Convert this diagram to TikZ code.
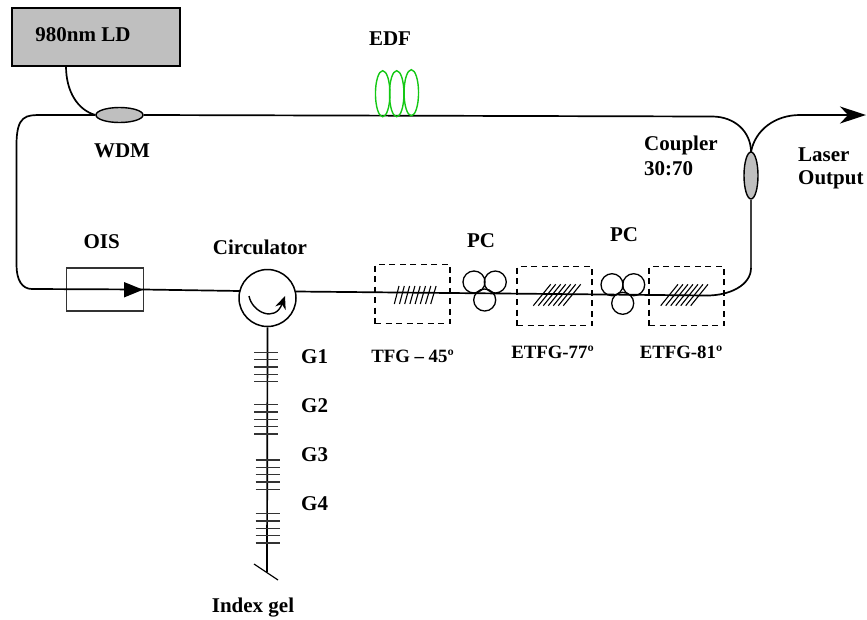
\documentclass[tikz,border=0pt]{standalone}
\usepackage{fontspec}
\setmainfont{Liberation Serif}
\usetikzlibrary{shapes.geometric,arrows.meta}
\tikzset{
  lab/.style={font=\fontsize{21}{24}\selectfont\bfseries,inner sep=0pt,align=left},
  smlab/.style={font=\fontsize{18.8}{22}\selectfont\bfseries,inner sep=0pt},
  fibre/.style={line width=1.7pt,black},
  tick/.style={line width=1.2pt,black!80},
  hatch/.style={line width=1.1pt,black},
  coupl/.style={ellipse,draw=black,line width=1.4pt,fill=black!25,inner sep=0pt},
  dbox/.style={draw=black,line width=1.4pt,dash pattern=on 6pt off 4.5pt,inner sep=0pt,minimum width=75pt,minimum height=59pt},
  pcring/.style={circle,draw=black,line width=1.3pt,inner sep=0pt,minimum size=22pt},
  coil/.style={ellipse,draw={rgb,255:red,20;green,200;blue,20},line width=1.4pt,inner sep=0pt,minimum width=14.5pt,minimum height=46pt}
}
\begin{document}
\begin{tikzpicture}[x=1pt,y=-1pt]
\useasboundingbox (0,0) rectangle (867,619);
% source
\node[draw=black,line width=1.6pt,fill=black!25,inner sep=0pt,minimum width=168pt,minimum height=58pt] (ld) at (96,37) {};
\node[lab] (ldt) at (83,34.5) {980nm LD};
% couplers
\node[coupl,minimum width=47pt,minimum height=15pt] (wdm) at (119.5,115) {};
\node[coupl,minimum width=14pt,minimum height=47pt] (cpl) at (751,175.5) {};
% waypoints
\coordinate (ldout) at (66,66);
\coordinate (tl) at (42,115);
\coordinate (l1) at (16.5,145);
\coordinate (l2) at (16.5,265);
\coordinate (l3) at (32,289);
\coordinate (tr) at (712,116.5);
\coordinate (cplin) at (751,152);
\coordinate (o1) at (800,115);
\coordinate (o2) at (866,115);
\coordinate (r1) at (751,268);
\coordinate (r2) at (707,295.5);
\coordinate (gel) at (267,572);
\coordinate (gela) at (254,564);
\coordinate (gelb) at (278,580);
% circulator and isolator
\node[circle,draw=black,line width=1.5pt,inner sep=0pt,minimum size=57pt] (circ) at (267.5,298) {};
\node[draw=black!80,line width=1.1pt,inner sep=0pt,minimum width=76.5pt,minimum height=43pt] (ois) at (105,289.5) {};
% fibres
\draw[fibre] (ldout) .. controls (66,92) and (78,110) .. (wdm.west);
\draw[fibre] (wdm.west) -- (tl) .. controls (26,115) and (l1|-tl) .. (l1) -- (l2)
   .. controls (16.5,280) and (22,289) .. (l3) -- (ois.east) -- (240,291);
\draw[fibre] (wdm.east) -- (tr) .. controls (735,116.5) and (751,132) .. (cplin);
\draw[fibre,-{Stealth[length=26pt,width=17pt,inset=8pt]}] (cplin) .. controls (755,130) and (775,115) .. (o1) -- (o2);
\draw[fibre,black!75] (cpl.south) -- (r1);
\draw[fibre] (r1) .. controls (751,285) and (730,295.5) .. (r2);
\draw[fibre] (296,291.5) -- (r2);
\draw[fibre] (circ.south) -- (gel);
\draw[line width=1.2pt] (gela) -- (gelb);
% isolator head
\fill[black] (124,282) -- (143,289.7) -- (124,297.5) -- cycle;
% circulator arrow
\draw[line width=1.4pt,-{Stealth[length=13pt,width=11pt]}] (249,296) .. controls (252,312) and (275,323) .. (285,296);
% EDF
\node[coil] (c1) at (382.7,93.7) {};
\node[coil] (c2) at (396.7,93.7) {};
\node[coil] (c3) at (411.3,92.7) {};
% gratings
\foreach \y in {352.3,359.7,367,374.3,381.7,404.7,412,419.3,426.7,434}
  \draw[tick] (254,\y) -- (278,\y);
\foreach \y in {460,467.3,474.7,482,489.3,513.7,521,528.3,535.7,543}
  \draw[tick] (255.5,\y) -- (280,\y);
% dashed boxes
\node[dbox] (b1) at (412.5,294.2) {};
\node[dbox] (b2) at (554.5,296) {};
\node[dbox] (b3) at (686.5,296) {};
% hatching
\foreach \i in {0,...,7}
  \draw[hatch] ({394.3+\i*5.2},304) -- ({399+\i*5.3},286);
\foreach \i in {0,...,6} {
  \draw[hatch] ({533.3+\i*5},305.7) -- ({550.7+\i*5},284.3);
  \draw[hatch] ({660.7+\i*5},305.7) -- ({678+\i*5},284.3);
}
% polarisation controllers
\node[pcring] (p1a) at (474,282) {};
\node[pcring] (p1b) at (495.3,282) {};
\node[pcring] (p1c) at (484.7,300) {};
\node[pcring] (p2a) at (612,284.7) {};
\node[pcring] (p2b) at (633.7,284.7) {};
\node[pcring] (p2c) at (622.7,303.3) {};
% labels
\node[lab] (tedf) at (390,39) {EDF};
\node[lab] (twdm) at (122,151) {WDM};
\node[lab,anchor=west] (tcp1) at (644,145) {Coupler};
\node[lab,anchor=west] (tcp2) at (644,169) {30:70};
\node[lab,anchor=west] (tla) at (798,155) {Laser};
\node[lab,anchor=west] (tou) at (798,180) {Output};
\node[lab] (tois) at (101.7,241.5) {OIS};
\node[lab] (tcir) at (260,247) {Circulator};
\node[lab] (tpc1) at (481,241) {PC};
\node[lab] (tpc2) at (624,235) {PC};
\node[smlab] (ttfg) at (412.5,356.5) {TFG – 45º};
\node[smlab] (te77) at (552.5,352.5) {ETFG-77º};
\node[smlab] (te81) at (681,352.5) {ETFG-81º};
\node[lab,anchor=west] (tg1) at (301,357) {G1};
\node[lab,anchor=west] (tg2) at (301,406) {G2};
\node[lab,anchor=west] (tg3) at (301,455) {G3};
\node[lab,anchor=west] (tg4) at (301,504) {G4};
\node[lab] (tgel) at (253,608) {Index gel};
\end{tikzpicture}
\end{document}
